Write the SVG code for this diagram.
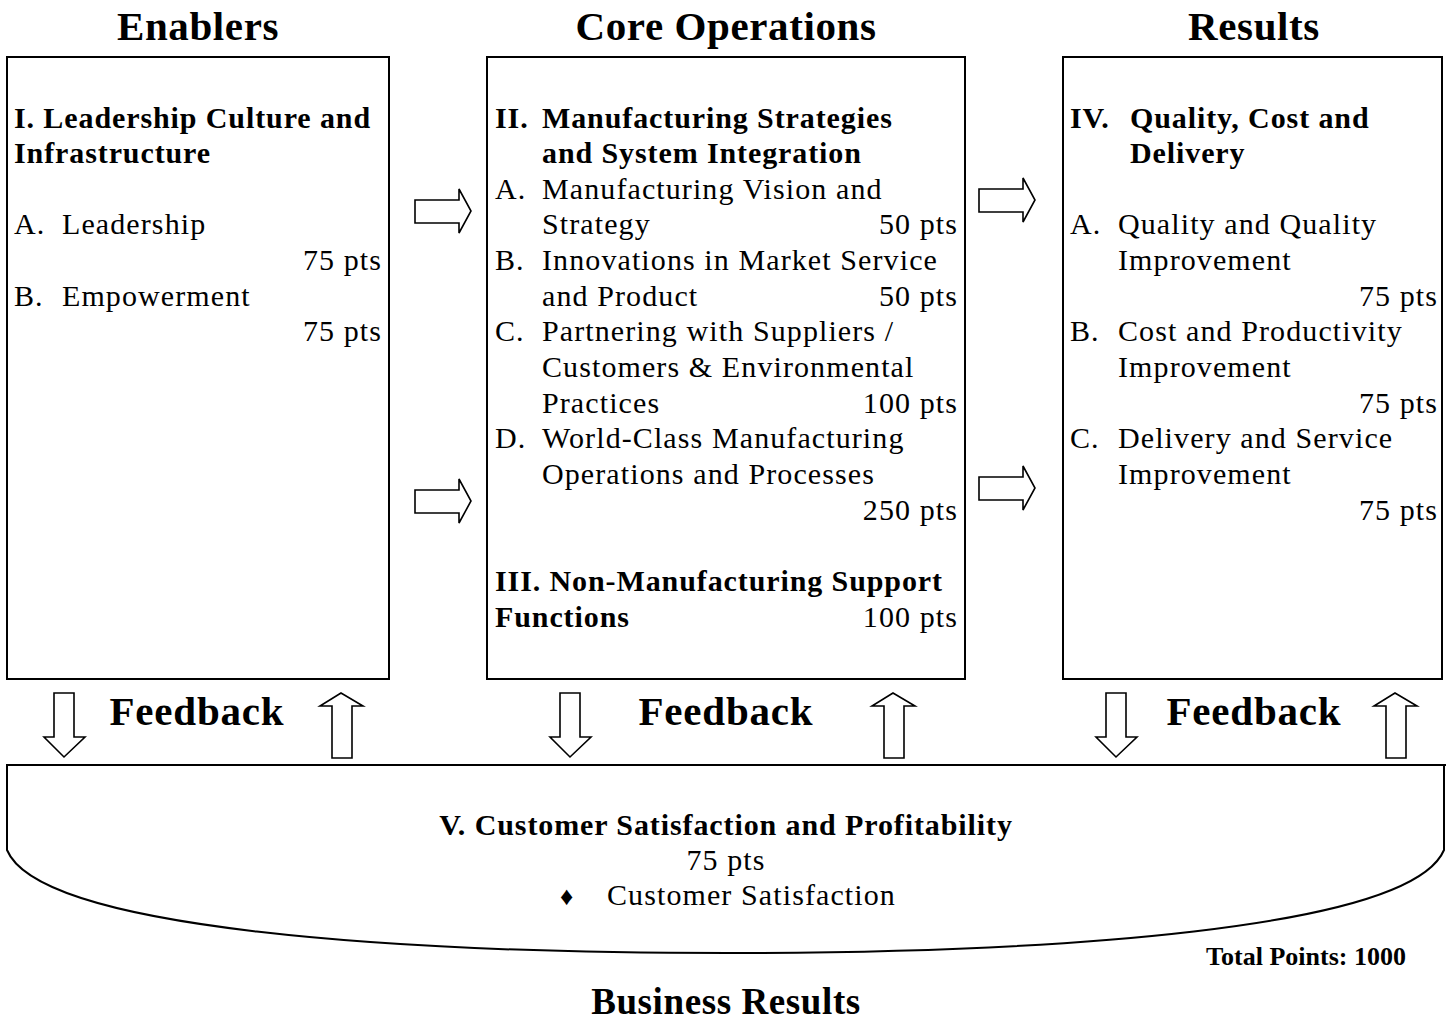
<svg xmlns="http://www.w3.org/2000/svg" width="1446" height="1023" viewBox="0 0 1446 1023">
  <style>
    text { font-family: "Liberation Serif", "Times New Roman", serif; fill: #000; }
    .hdr { font-size: 41px; font-weight: bold; text-anchor: middle; letter-spacing: 0.6px; }
    .b { font-size: 30px; font-weight: bold; letter-spacing: 0.9px; }
    .t { font-size: 30px; letter-spacing: 1.1px; }
    .r { font-size: 30px; text-anchor: end; letter-spacing: 1.1px; }
    .fb { font-size: 41px; font-weight: bold; text-anchor: middle; letter-spacing: 0.8px; }
    .box { fill: #fff; stroke: #000; stroke-width: 2; }
    .arr { fill: #fff; stroke: #000; stroke-width: 1.6; stroke-linejoin: miter; }
  </style>
  <defs>
    <path id="arrRight" d="M0,10 H44 V-1 L56,21 L44,43 V33 H0 Z"/>
    <path id="arrDown" d="M-11,0 H9 V44 H20 L-1,64 L-21,44 H-11 Z"/>
    <path id="arrUp" d="M-1,0 L21,13 H10 V65 H-10 V13 H-22 Z"/>
  </defs>
  <rect width="1446" height="1023" fill="#fff"/>

  <!-- column headings -->
  <text class="hdr" x="198" y="40">Enablers</text>
  <text class="hdr" x="726" y="40">Core Operations</text>
  <text class="hdr" x="1254" y="40">Results</text>

  <!-- Enablers -->
  <g id="enablers">
    <rect class="box" x="7" y="57" width="382" height="622"/>
    <text class="b" x="14" y="128">I. Leadership Culture and</text>
    <text class="b" x="14" y="163">Infrastructure</text>
    <text class="t" x="14" y="234">A.</text><text class="t" x="62" y="234">Leadership</text>
    <text class="r" x="382" y="270">75 pts</text>
    <text class="t" x="14" y="306">B.</text><text class="t" x="62" y="306">Empowerment</text>
    <text class="r" x="382" y="341">75 pts</text>
  </g>

  <!-- Core Operations -->
  <g id="core-operations">
    <rect class="box" x="487" y="57" width="478" height="622"/>
    <text class="b" x="495" y="128">II.</text><text class="b" x="542" y="128">Manufacturing Strategies</text>
    <text class="b" x="542" y="163">and System Integration</text>
    <text class="t" x="495" y="199">A.</text><text class="t" x="542" y="199">Manufacturing Vision and</text>
    <text class="t" x="542" y="234">Strategy</text><text class="r" x="958" y="234">50 pts</text>
    <text class="t" x="495" y="270">B.</text><text class="t" x="542" y="270">Innovations in Market Service</text>
    <text class="t" x="542" y="306">and Product</text><text class="r" x="958" y="306">50 pts</text>
    <text class="t" x="495" y="341">C.</text><text class="t" x="542" y="341">Partnering with Suppliers /</text>
    <text class="t" x="542" y="377">Customers &amp; Environmental</text>
    <text class="t" x="542" y="413">Practices</text><text class="r" x="958" y="413">100 pts</text>
    <text class="t" x="495" y="448">D.</text><text class="t" x="542" y="448">World-Class Manufacturing</text>
    <text class="t" x="542" y="484">Operations and Processes</text>
    <text class="r" x="958" y="520">250 pts</text>
    <text class="b" x="495" y="591">III.  Non-Manufacturing Support</text>
    <text class="b" x="495" y="627">Functions</text><text class="r" x="958" y="627">100 pts</text>
  </g>

  <!-- Results -->
  <g id="results">
    <rect class="box" x="1063" y="57" width="379" height="622"/>
    <text class="b" x="1070" y="128">IV.</text><text class="b" x="1130" y="128">Quality, Cost and</text>
    <text class="b" x="1130" y="163">Delivery</text>
    <text class="t" x="1070" y="234">A.</text><text class="t" x="1118" y="234">Quality and Quality</text>
    <text class="t" x="1118" y="270">Improvement</text>
    <text class="r" x="1438" y="306">75 pts</text>
    <text class="t" x="1070" y="341">B.</text><text class="t" x="1118" y="341">Cost and Productivity</text>
    <text class="t" x="1118" y="377">Improvement</text>
    <text class="r" x="1438" y="413">75 pts</text>
    <text class="t" x="1070" y="448">C.</text><text class="t" x="1118" y="448">Delivery and Service</text>
    <text class="t" x="1118" y="484">Improvement</text>
    <text class="r" x="1438" y="520">75 pts</text>
  </g>

  <!-- Business results -->
  <g id="business-results">
    <path class="box" d="M1446,765 H7 V850 C40,930 400,953 727,953 C1050,953 1410,930 1444,850 V765"/>
    <text class="b" x="726" y="835" text-anchor="middle" letter-spacing="1.2">V. Customer Satisfaction and Profitability</text>
    <text class="t" x="726" y="870" text-anchor="middle">75 pts</text>
    <text x="560" y="905" font-size="26">♦</text>
    <text class="t" x="607" y="905">Customer Satisfaction</text>
    <text x="1306" y="965" font-size="26" font-weight="bold" text-anchor="middle">Total Points: 1000</text>
    <text x="726" y="1014" font-size="37" font-weight="bold" text-anchor="middle" letter-spacing="0.6">Business Results</text>
  </g>

  <!-- connectors -->
  <g id="connectors">
    <use href="#arrRight" class="arr" x="415" y="190"/>
    <use href="#arrRight" class="arr" x="415" y="480"/>
    <use href="#arrRight" class="arr" x="979" y="179"/>
    <use href="#arrRight" class="arr" x="979" y="467"/>

    <use href="#arrDown" class="arr" x="65" y="693"/>
    <use href="#arrUp" class="arr" x="342" y="693"/>
    <use href="#arrDown" class="arr" x="571" y="693"/>
    <use href="#arrUp" class="arr" x="894" y="693"/>
    <use href="#arrDown" class="arr" x="1117" y="693"/>
    <use href="#arrUp" class="arr" x="1396" y="693"/>
  </g>

  <!-- feedback labels -->
  <text class="fb" x="197" y="725">Feedback</text>
  <text class="fb" x="726" y="725">Feedback</text>
  <text class="fb" x="1254" y="725">Feedback</text>
</svg>
